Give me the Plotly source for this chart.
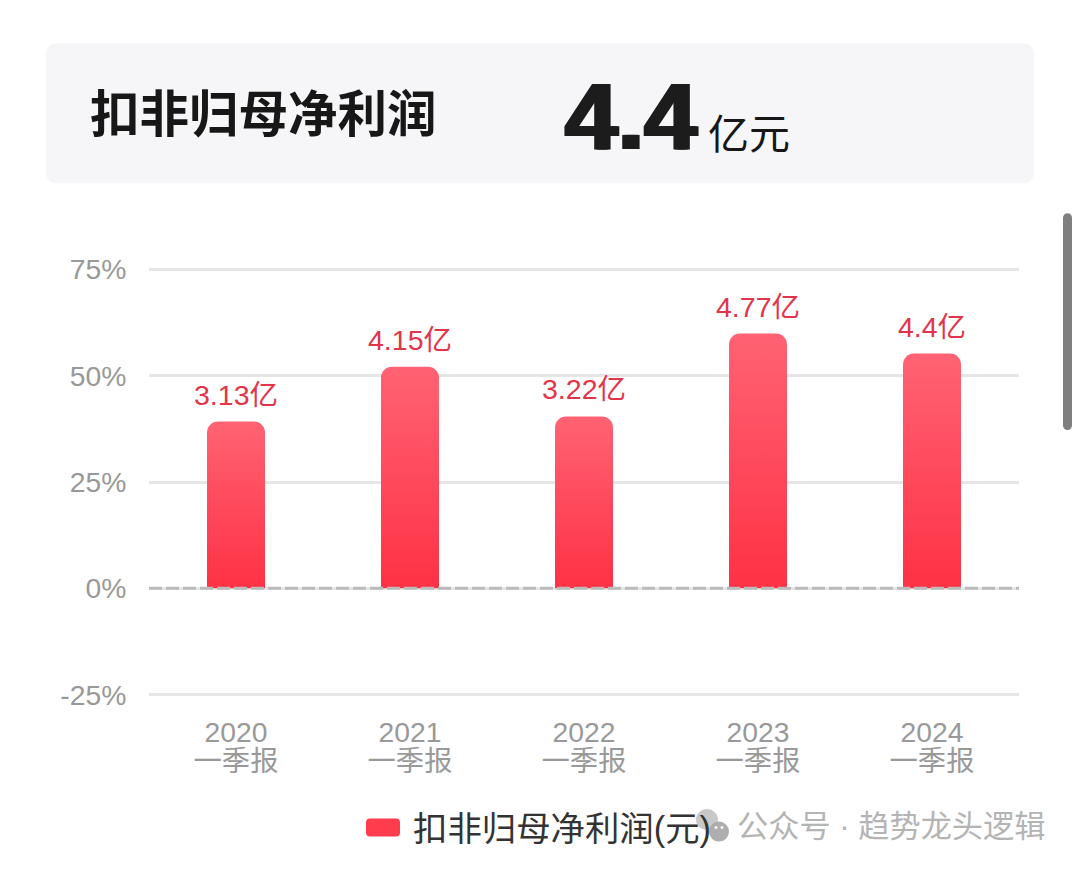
import plotly.graph_objects as go

categories = ["2020<br>一季报", "2021<br>一季报", "2022<br>一季报", "2023<br>一季报", "2024<br>一季报"]
bar_percent = [39.2, 52.1, 40.4, 59.9, 55.2]
bar_labels = ["3.13亿", "4.15亿", "3.22亿", "4.77亿", "4.4亿"]
y_ticks = [-25, 0, 25, 50, 75]
y_tick_labels = ["-25%", "0%", "25%", "50%", "75%"]
series_name = "扣非归母净利润(元)"

W, H = 1080, 870
PX_PER_PCT = 4.26
L, R = 149, 1019
T, B = 269 - PX_PER_PCT, 695 + PX_PER_PCT
FONT = "Liberation Sans, Noto Sans CJK SC, sans-serif"


def px(x):
    return (x - L) / (R - L)


def py(y):
    return (B - y) / (B - T)


def round_rect(x0, y0, x1, y1, r):
    k = 0.45 * r
    p = [
        f"M{px(x0 + r)},{py(y0)}", f"L{px(x1 - r)},{py(y0)}",
        f"C{px(x1 - k)},{py(y0)} {px(x1)},{py(y0 + k)} {px(x1)},{py(y0 + r)}",
        f"L{px(x1)},{py(y1 - r)}",
        f"C{px(x1)},{py(y1 - k)} {px(x1 - k)},{py(y1)} {px(x1 - r)},{py(y1)}",
        f"L{px(x0 + r)},{py(y1)}",
        f"C{px(x0 + k)},{py(y1)} {px(x0)},{py(y1 - k)} {px(x0)},{py(y1 - r)}",
        f"L{px(x0)},{py(y0 + r)}",
        f"C{px(x0)},{py(y0 + k)} {px(x0 + k)},{py(y0)} {px(x0 + r)},{py(y0)}", "Z",
    ]
    return " ".join(p)


def circle(cx, cy, rx, ry, color):
    return dict(type="circle", xref="paper", yref="paper", layer="above",
                x0=px(cx - rx), x1=px(cx + rx), y0=py(cy + ry), y1=py(cy - ry),
                fillcolor=color, line_width=0)


def note(x, y, text, size, color, anchor="left", family=FONT, shadow=None):
    font = dict(size=size, color=color, family=family)
    if shadow:
        font["shadow"] = shadow
    return dict(xref="paper", yref="paper", x=px(x), y=py(y), text=text, showarrow=False,
                xanchor=anchor, yanchor="middle", font=font)


fig = go.Figure(go.Bar(
    x=categories, y=bar_percent, width=1 / 3, name=series_name,
    marker=dict(color="#ff3b4e", line_width=0),
    text=bar_labels, textposition="outside", cliponaxis=False, constraintext="none",
    textangle=0,
    textfont=dict(size=28.5, color="#e2354b", family=FONT),
))

shapes = [
    dict(type="path", xref="paper", yref="paper", layer="below", path=round_rect(46, 43, 1034, 183, 10),
         fillcolor="#f6f6f9", line_width=0),
    dict(type="path", xref="paper", yref="paper", layer="above", path=round_rect(1063, 213, 1072, 430, 4.5),
         fillcolor="#7f7f7f", line_width=0),
    dict(type="line", xref="paper", yref="y", layer="above", x0=0, x1=1, y0=0, y1=0,
         line=dict(color="#bbbbbb", width=3, dash="13px 4px")),
    circle(707, 820, 11, 10.5, "rgba(190,190,190,0.85)"),
    circle(719, 832, 10, 10, "rgba(170,170,170,0.95)"),
    circle(716, 828, 1.5, 1.5, "#ffffff"),
    circle(722, 828, 1.5, 1.5, "#ffffff"),
]

annotations = [
    note(88, 114, "<b>扣非归母净利润</b>", 49.5, "#171717"),
    note(563, 116, "<b>4.4</b>", 95, "#1c1c1c", shadow="2px 0 0 #1c1c1c, -2px 0 0 #1c1c1c"),
    note(706, 135, "亿元", 41, "#171717"),
    note(735, 827, "公众号 · 趋势龙头逻辑", 31.2, "#b4b4b4"),
]

fig.update_layout(
    width=W, height=H, autosize=False,
    margin=dict(l=L, r=W - R, t=T, b=H - B, autoexpand=False),
    paper_bgcolor="#ffffff", plot_bgcolor="#ffffff",
    font=dict(family=FONT, color="#999999"),
    barcornerradius=11,
    shapes=shapes, annotations=annotations,
    showlegend=True,
    legend=dict(xref="paper", yref="paper", x=px(353), y=py(799), xanchor="left", yanchor="top",
                font=dict(size=34.4, color="#333333", family=FONT), itemwidth=50,
                bgcolor="rgba(0,0,0,0)"),
    xaxis=dict(type="category", range=[-0.5, 4.5], showgrid=False, zeroline=False, showline=False,
               ticks="outside", ticklen=8, tickcolor="rgba(0,0,0,0)",
               tickfont=dict(size=28.3, color="#999999", family=FONT)),
    yaxis=dict(range=[-26, 76], tickvals=y_ticks, ticktext=y_tick_labels, showgrid=True, gridcolor="#e6e6e6",
               gridwidth=3, zeroline=False, showline=False, ticks="outside", ticklen=16,
               tickcolor="rgba(0,0,0,0)", tickfont=dict(size=28.3, color="#999999", family=FONT)),
)

post_script = """
document.body.style.margin = '0';
var gd = document.getElementById('{plot_id}');
function dress() {
  var svg = gd.querySelector('svg.main-svg');
  var ns = 'http://www.w3.org/2000/svg';
  if (!document.getElementById('barGrad')) {
    var defs = svg.querySelector('defs') || svg.insertBefore(document.createElementNS(ns, 'defs'), svg.firstChild);
    var g = document.createElementNS(ns, 'linearGradient');
    g.setAttribute('id', 'barGrad');
    g.setAttribute('x1', '0'); g.setAttribute('y1', '0'); g.setAttribute('x2', '0'); g.setAttribute('y2', '1');
    [['0', '#ff6373'], ['1', '#ff3145']].forEach(function (s) {
      var st = document.createElementNS(ns, 'stop');
      st.setAttribute('offset', s[0]); st.setAttribute('stop-color', s[1]);
      g.appendChild(st);
    });
    defs.appendChild(g);
  }
  gd.querySelectorAll('.bars .point path').forEach(function (p) { p.style.fill = 'url(#barGrad)'; });
  gd.querySelectorAll('.legendpoints path').forEach(function (p) {
    p.setAttribute('d', 'M-13,-9H13A4,4 0 0 1 17,-5V5A4,4 0 0 1 13,9H-13A4,4 0 0 1 -17,5V-5A4,4 0 0 1 -13,-9Z');
  });
  gd.querySelectorAll('.xtick text').forEach(function (t) {
    var second = t.querySelectorAll('tspan.line')[1];
    if (second && !second.dataset.moved) {
      second.setAttribute('y', parseFloat(second.getAttribute('y')) - 8);
      second.dataset.moved = '1';
    }
  });
  gd.querySelectorAll('.bars .bartext').forEach(function (t) {
    if (!t.dataset.moved) {
      t.setAttribute('transform', (t.getAttribute('transform') || '') + ' translate(0,-8)');
      t.dataset.moved = '1';
    }
  });
}
dress();
gd.on('plotly_afterplot', dress);
"""

fig.write_html("out.html", post_script=post_script, config={"displayModeBar": False})
